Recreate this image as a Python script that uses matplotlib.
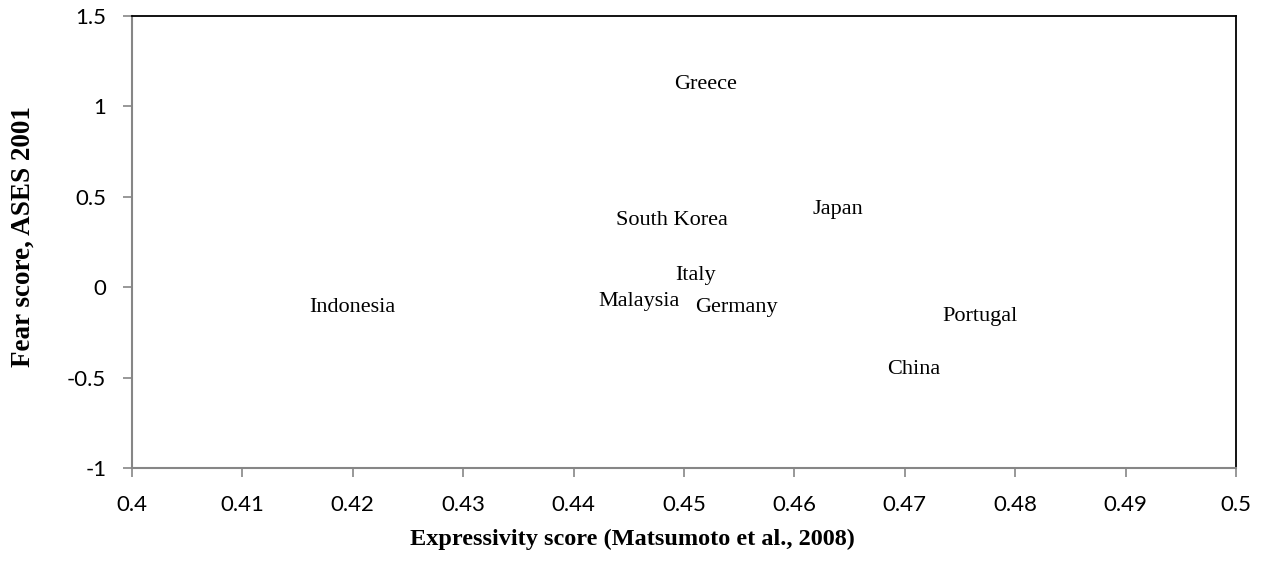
import matplotlib
matplotlib.use("Agg")
import matplotlib.pyplot as plt

# country positions (expressivity, fear score)
countries = ["Greece", "Indonesia", "South Korea", "Japan", "Italy",
             "Malaysia", "Germany", "Portugal", "China"]
expressivity = [0.4485, 0.4154, 0.4432, 0.4610, 0.4486,
                0.4416, 0.4504, 0.4728, 0.4678]
fear = [1.135, -0.098, 0.388, 0.449, 0.079,
        -0.060, -0.093, -0.143, -0.441]

xticks = [0.4, 0.41, 0.42, 0.43, 0.44, 0.45, 0.46, 0.47, 0.48, 0.49, 0.5]
xticklabels = ["0.4", "0.41", "0.42", "0.43", "0.44", "0.45",
               "0.46", "0.47", "0.48", "0.49", "0.5"]
yticks = [-1, -0.5, 0, 0.5, 1, 1.5]
yticklabels = ["-1", "-0.5", "0", "0.5", "1", "1.5"]

fig = plt.figure(figsize=(12.64, 5.81), dpi=100)
ax = fig.add_axes([0.1044, 0.1945, 0.8734, 0.778])

# invisible markers, labels placed to the right like Excel
ax.scatter(expressivity, fear, s=0, alpha=0)
for name, x, y in zip(countries, expressivity, fear):
    ax.annotate(name, (x, y), xytext=(7, -3), textcoords="offset pixels",
                ha="left", va="center", fontsize=16,
                family="Liberation Serif")

ax.set_xlim(0.4, 0.5)
ax.set_ylim(-1, 1.5)
ax.set_xticks(xticks)
ax.set_xticklabels(xticklabels, family="Lato", fontsize=16)
ax.set_yticks(yticks)
ax.set_yticklabels(yticklabels, family="Lato", fontsize=16)
ax.tick_params(direction="out", length=6.5, width=1.2, color="#868686")
ax.tick_params(axis="x", pad=13)
ax.tick_params(axis="y", pad=12)

for s in ["top", "right"]:
    ax.spines[s].set_color("black")
    ax.spines[s].set_linewidth(1.3)
for s in ["left", "bottom"]:
    ax.spines[s].set_color("#868686")
    ax.spines[s].set_linewidth(1.5)

fig.text(0.5, 0.072, "Expressivity score (Matsumoto et al., 2008)",
         ha="center", va="center", fontsize=17.5, fontweight="bold",
         family="Liberation Serif")
fig.text(0.018, 0.592, "Fear score, ASES 2001", ha="center", va="center",
         rotation=90, fontsize=19.5, fontweight="bold", family="Liberation Serif")

fig.savefig("out.png", dpi=100)
